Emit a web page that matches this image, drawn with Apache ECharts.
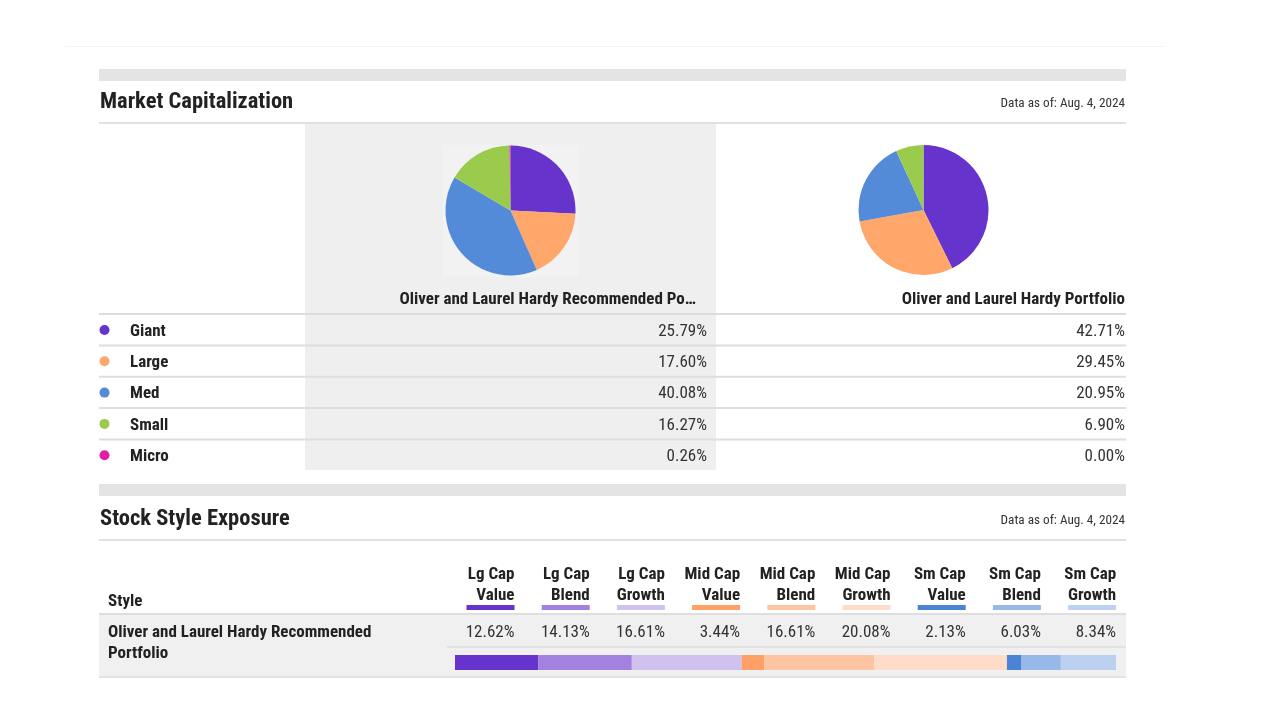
<!DOCTYPE html>
<html>
<head>
<meta charset="utf-8">
<script src="https://cdn.jsdelivr.net/npm/echarts@6/dist/echarts.min.js"></script>
<style>
html,body{margin:0;padding:0;background:#fff;}
#chart{width:1280px;height:720px;}
</style>
</head>
<body>
<div id="chart"></div>
<script>
// ---- DATA ----
const capCategories = ['Giant', 'Large', 'Med', 'Small', 'Micro'];
const capColors = ['#6633cc', '#ffa66b', '#548bd8', '#9bcb4c', '#e01fa6'];
const portfolioNames = ['Oliver and Laurel Hardy Recommended Po…', 'Oliver and Laurel Hardy Portfolio'];
const recommendedCap = [25.79, 17.60, 40.08, 16.27, 0.26];
const portfolioCap = [42.71, 29.45, 20.95, 6.90, 0.00];
const dataAsOf = 'Data as of: Aug. 4, 2024';

const styleHeadTop = ['Lg Cap', 'Lg Cap', 'Lg Cap', 'Mid Cap', 'Mid Cap', 'Mid Cap', 'Sm Cap', 'Sm Cap', 'Sm Cap'];
const styleHeadBottom = ['Value', 'Blend', 'Growth', 'Value', 'Blend', 'Growth', 'Value', 'Blend', 'Growth'];
const styleColors = ['#6633cc', '#a382df', '#d0c1ef', '#ffa066', '#ffc4a1', '#ffdcc7', '#4c84d5', '#98b8e8', '#bcd1f0'];
const styleRowName = ['Oliver and Laurel Hardy Recommended', 'Portfolio'];
const styleValues = [12.62, 14.13, 16.61, 3.44, 16.61, 20.08, 2.13, 6.03, 8.34];

// ---- LAYOUT ----
const FONT = '"Roboto Condensed", "Liberation Sans Narrow", "DejaVu Sans Condensed", Roboto, sans-serif';
const BODY = 17;
const DY = 1.5;
const L = 99, R = 1126;
const chart = echarts.init(document.getElementById('chart'), null, {renderer: 'canvas'});
const g = [];
function rect(x, y, w, h, fill) { g.push({type: 'rect', shape: {x, y, width: w, height: h}, style: {fill}, silent: true}); }
function text(x, y, t, opt) {
  g.push({type: 'text', x, y: y + DY, silent: true, style: Object.assign({
    text: t, fontFamily: FONT, fontSize: BODY, fill: '#333', textAlign: 'left', textVerticalAlign: 'middle'
  }, opt || {})});
}
// faint top line
rect(65, 46, 1100, 1, '#f4f4f4');
// Market cap section
rect(L, 69, R - L, 12, '#e4e4e4');
text(L + 1, 101, 'Market Capitalization', {fontSize: 22.5, fontWeight: 'bold', fill: '#222'});
text(R - 1, 102, dataAsOf, {fontSize: 13.2, textAlign: 'right', fill: '#333'});
rect(L, 122, R - L, 2, '#e0e0e0');
rect(305, 124, 411, 346, '#efefef');
rect(443, 145, 136, 132, '#f2f2f2');
text(696, 298, portfolioNames[0], {fontWeight: 'bold', textAlign: 'right', fill: '#222'});
text(1125, 298, portfolioNames[1], {fontWeight: 'bold', textAlign: 'right', fill: '#222'});
rect(L, 313, R - L, 2, '#dcdcdc');
const rowY0 = 330, rowH = 31.3;
capCategories.forEach((c, i) => {
  const y = rowY0 + i * rowH;
  g.push({type: 'circle', shape: {cx: 104.5, cy: y, r: 5}, style: {fill: capColors[i]}, silent: true});
  text(130, y, c, {fontWeight: 'bold', fill: '#222'});
  text(707, y, recommendedCap[i].toFixed(2) + '%', {textAlign: 'right'});
  text(1125, y, portfolioCap[i].toFixed(2) + '%', {textAlign: 'right'});
  if (i < capCategories.length - 1) rect(L, y + 14.5, R - L, 2, '#dedede');
});
// Stock style section
rect(L, 484, R - L, 12, '#e4e4e4');
text(L + 1, 518, 'Stock Style Exposure', {fontSize: 22.5, fontWeight: 'bold', fill: '#222'});
text(R - 1, 519, dataAsOf, {fontSize: 13.2, textAlign: 'right', fill: '#333'});
rect(L, 539, R - L, 2, '#e0e0e0');
text(108, 600, 'Style', {fontWeight: 'bold', fill: '#222'});
const colRight0 = 514.5, colStep = 75.2;
styleHeadTop.forEach((t, i) => {
  const xr = colRight0 + i * colStep;
  text(xr, 573, t, {fontWeight: 'bold', textAlign: 'right', fill: '#222'});
  text(xr, 594, styleHeadBottom[i], {fontWeight: 'bold', textAlign: 'right', fill: '#222'});
  rect(xr - 48, 605, 48, 5, styleColors[i]);
});
rect(L, 613, R - L, 2, '#dedede');
rect(L, 615, R - L, 62, '#f0f0f0');
text(108, 631, styleRowName[0], {fontWeight: 'bold', fill: '#222'});
text(108, 652, styleRowName[1], {fontWeight: 'bold', fill: '#222'});
styleValues.forEach((v, i) => {
  text(colRight0 + i * colStep, 631, v.toFixed(2) + '%', {textAlign: 'right'});
});
rect(447, 646, R - 447, 2, '#e2e2e2');
rect(L, 676, R - L, 2, '#e2e2e2');

const styleTotal = styleValues.reduce((a, b) => a + b, 0);
const pieData = (vals) => capCategories.map((c, i) => ({name: c, value: vals[i], itemStyle: {color: capColors[i]}}));

chart.setOption({
  animation: false,
  backgroundColor: '#ffffff',
  graphic: {elements: g},
  grid: {left: 455, top: 655, width: 661, height: 15},
  xAxis: {type: 'value', min: 0, max: styleTotal, show: false},
  yAxis: {type: 'category', data: ['s'], show: false},
  series: [
    {type: 'pie', center: [510.5, 210.5], radius: [0, 65], startAngle: 90, clockwise: true,
     label: {show: false}, labelLine: {show: false}, silent: true, z: 5,
     itemStyle: {borderWidth: 0}, data: pieData(recommendedCap)},
    {type: 'pie', center: [923.5, 210], radius: [0, 65], startAngle: 90, clockwise: true,
     label: {show: false}, labelLine: {show: false}, silent: true, z: 5,
     itemStyle: {borderWidth: 0}, data: pieData(portfolioCap)}
  ].concat(styleValues.map((v, i) => ({
    type: 'bar', stack: 'style', barWidth: 15, silent: true, z: 5,
    itemStyle: {color: styleColors[i]}, data: [v]
  })))
});
</script>
</body>
</html>
